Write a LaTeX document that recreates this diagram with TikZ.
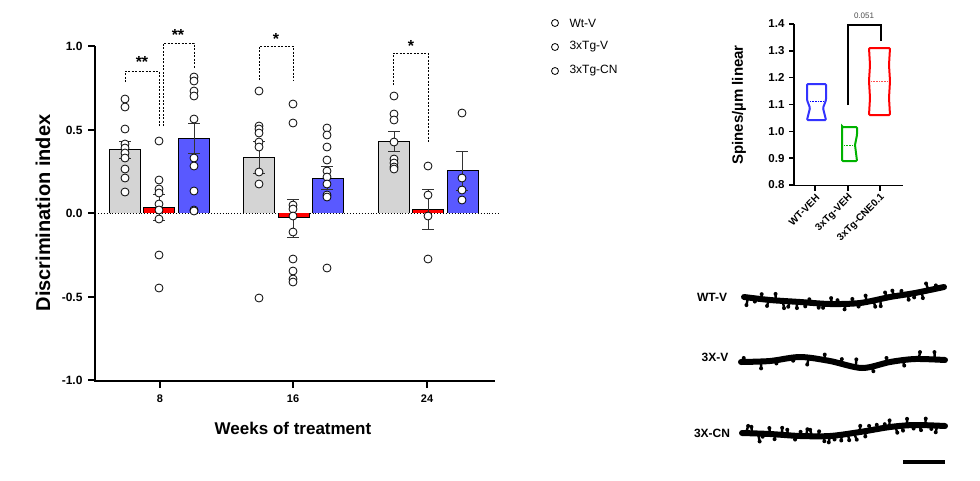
\documentclass[tikz,border=0pt]{standalone}
\usepackage{fontspec}
\setmainfont{Liberation Sans}
\usetikzlibrary{decorations.markings}
\begin{document}
\begin{tikzpicture}[x=1pt,y=-1pt,
 dot/.style={circle,draw=black,fill=white,inner sep=0pt,minimum size=8pt,line width=0.8pt},
 bar/.style={draw=black,line width=0.8pt},
 err/.style={line width=0.8pt,black!80},
 brk/.style={dashed,dash pattern=on 2pt off 1.5pt,line width=0.7pt},
 lab/.style={font=\bfseries\fontsize{12}{12}\selectfont},
 star/.style={font=\bfseries\fontsize{16}{16}\selectfont,inner sep=0pt},
 vio/.style={line width=2pt,rounded corners=1pt},
 med/.style={densely dotted,line width=0.6pt},
 dend/.style={line width=6pt,line cap=round,line join=round},
 spines/.style={postaction={decorate,decoration={markings,
   mark=between positions 0.02 and 0.98 step #1 with {
     \pgfmathsetmacro{\sg}{rnd<0.5 ? -1 : 1}
     \pgfmathsetmacro{\ln}{3+rnd*5}
     \pgfmathsetmacro{\dx}{rnd*4-2}
     \draw[line width=2.4pt,line cap=round] (0,0) -- (\dx,\sg*\ln);
     \fill (\dx,\sg*\ln) circle (2pt);}}}}]
\useasboundingbox (0,0) rectangle (980,480);
% axes
\draw[line width=2pt] (95,46) -- (95,381) -- (495,381);
\foreach \y/\t in {46/1.0,130/0.5,213/0.0,297/-0.5,380/-1.0}{
  \draw[line width=2pt] (88,\y) -- (95,\y);
  \node[lab,anchor=east] (yt\y) at (86,\y) {\t};}
\foreach \x/\t in {160/8,293/16,427/24}{
  \draw[line width=1.5pt] (\x,381) -- (\x,388);
  \node[lab,font=\bfseries\fontsize{11}{11}\selectfont] (xt\t) at (\x,399) {\t};}
\node[font=\bfseries\fontsize{17}{17}\selectfont] (xl) at (293,428) {Weeks of treatment};
\node[font=\bfseries\fontsize{20}{20}\selectfont,rotate=90] (yl) at (43,213) {Discrimination index};
\draw[dotted,line width=0.9pt] (95,213) -- (500,213);
% bars
\newcommand{\mybar}[4]{\fill[#4] (#1,213) rectangle (#2,#3); \draw[bar] (#1,213) -- (#1,#3) -- (#2,#3) -- (#2,213);}
\mybar{109}{140}{149}{black!17}
\mybar{143.5}{174.5}{207}{red}
\mybar{178}{209.5}{138}{blue!65}
\mybar{243}{274}{157}{black!17}
\fill[red] (278,213) rectangle (309,217); \draw[bar] (278,213) -- (278,217) -- (309,217) -- (309,213);
\mybar{312}{343}{178}{blue!65}
\mybar{378}{409}{141}{black!17}
\mybar{412}{443}{209}{red}
\mybar{447}{478}{170}{blue!65}
% error bars
\foreach \x/\a/\b in {125/141/158,159/194/220,194/123/153,259/141/173,293/199/237,327/166/189,394/131/151,428/189/229,462/151/190}{
  \draw[err] (\x,\a) -- (\x,\b); \draw[err] (\x-6,\a) -- (\x+6,\a); \draw[err] (\x-6,\b) -- (\x+6,\b);}
% points
\foreach \x/\list in {125/{99,107,129,144,148,153,158,169,178,192},
 159/{141,180,189,193,204,210,219,255,288},
 194/{77,81,91,96,119,158,166,191,210,211},
 259/{91,126,129,133,142,147,172,184,298},
 293/{104,123,205,209,216,232,259,271,279,282},
 327/{128,135,147,160,171,177,184,195,197,268},
 394/{96,114,120,142,159,163,167,169},
 428/{166,195,216,259},
 462/{113,178,190,200}}{
  \foreach \y in \list {\node[dot] at (\x,\y) {};}}
% brackets
\draw[brk] (125,82) -- (125,71) -- (159,71) -- (159,126);
\node[star] (s1) at (142,62) {**};
\draw[brk] (163,126) -- (163,43) -- (194,43) -- (194,68);
\node[star] (s2) at (178,35) {**};
\draw[brk] (259,80) -- (259,46) -- (293,46) -- (293,80);
\node[star] (s3) at (276,39) {*};
\draw[brk] (393,85) -- (393,53) -- (428,53) -- (428,143);
\node[star] (s4) at (411,46) {*};
% legend
\foreach \y/\t in {23/Wt-V,47/3xTg-V,71/3xTg-CN}{
  \node[dot,minimum size=7pt] (lg\y) at (555,\y) {};
  \node[anchor=west,font=\fontsize{12}{12}\selectfont] at (566,\y) {\t};}
% violin chart
\draw[line width=1.6pt] (794,24) -- (794,185.5) -- (903,185.5);
\foreach \i/\t in {0/1.4,1/1.3,2/1.2,3/1.1,4/1.0,5/0.9,6/0.8}{
  \draw[line width=1.6pt] (789,24+26.83*\i) -- (794,24+26.83*\i);
  \node[lab,anchor=east,font=\bfseries\fontsize{11.5}{11.5}\selectfont] at (788,24+26.83*\i) {\t};}
\foreach \x/\t in {815/WT-VEH,848/3xTg-VEH,880/3xTg-CNE0.1}{
  \draw[line width=1.6pt] (\x,185.5) -- (\x,191);
  \node[anchor=east,rotate=45,inner sep=0pt,font=\bfseries\fontsize{10}{10}\selectfont] at (\x+3,196) {\t};}
\node[rotate=90,font=\bfseries\fontsize{15}{15}\selectfont] (vy) at (739,105) {Spines/µm linear};
\draw[vio,blue!80] (807,84) -- (826,84) -- (826,100) -- (823,108) -- (826,120) -- (807,120) -- (810,108) -- (807,100) -- cycle;
\draw[med,blue] (810,101) -- (823,101);
\draw[vio,green!70!black] (842,127) -- (857,127) -- (857,135) -- (855,145) -- (857,161) -- (842,161) -- (842,127) -- cycle;
\draw[med,green!70!black] (844,145) -- (855,145);
\draw[vio,red] (869,48) -- (890,48) -- (889,65) -- (890,81) -- (889,98) -- (890,115) -- (869,115) -- (870,98) -- (869,81) -- (870,65) -- cycle;
\draw[med,red!70] (871,81) -- (888,81);
\draw[line width=2.2pt] (848,105) -- (848,25) -- (881,25) -- (881,41);
\node[font=\fontsize{8}{8}\selectfont,black!70] (pv) at (864,16) {0.051};
% dendrites
\node[lab] (d1) at (712,297) {WT-V};
\node[lab] (d2) at (715,357) {3X-V};
\node[lab] (d3) at (712,433) {3X-CN};
\pgfmathsetseed{11}
\draw[dend,spines=7pt] plot[smooth] coordinates {(744,297) (770,300) (800,302) (830,304) (860,303) (890,297) (915,293) (944,287)};
\draw[dend,spines=16pt] plot[smooth] coordinates {(741,362) (770,361) (800,357) (830,361) (862,368) (890,362) (915,359) (945,360)};
\draw[dend,spines=6pt] plot[smooth] coordinates {(742,433) (770,434) (800,436) (830,436) (860,432) (890,427) (915,425) (945,426)};
\draw[line width=4pt] (903,462) -- (945,462);
\end{tikzpicture}
\end{document}
